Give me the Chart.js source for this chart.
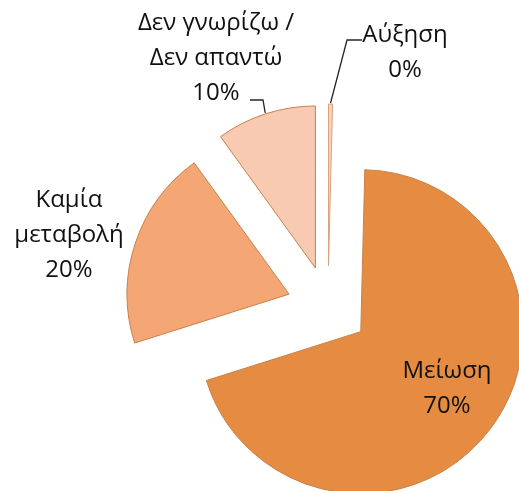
<!DOCTYPE html>
<html>
<head>
<meta charset="utf-8">
<script src="https://cdn.jsdelivr.net/npm/chart.js@4.4.1/dist/chart.umd.min.js"></script>
<style>
  html, body { margin: 0; padding: 0; background: #ffffff; }
  #wrap { width: 519px; height: 491px; position: relative; }
</style>
</head>
<body>
<div id="wrap"><canvas id="c" width="519" height="491"></canvas></div>
<script>
// ---- data ----
const categories = ['Αύξηση', 'Μείωση', 'Καμία μεταβολή', 'Δεν γνωρίζω / Δεν απαντώ'];
const values = [0.4, 70, 20, 10];
const labelLines = [['Αύξηση'], ['Μείωση'], ['Καμία', 'μεταβολή'], ['Δεν γνωρίζω /', 'Δεν απαντώ']];

// ---- style ----
const sliceColors = ['#F3D3BE', '#E68B42', '#F4A774', '#F8CAB2'];
const sliceBorders = ['#DCA27C', '#C98049', '#C98049', '#C98049'];
const EXPLODE = 41;
const FONT = '500 24px "Open Sans", Roboto, sans-serif';
const LINE_H = 35;
// label placement (text centre of first line) and leader elbows
const labelPos = [
  { x: 405, y: 35, leader: [[362, 40], [347, 40]] },
  { x: 447, y: 371 },
  { x: 69, y: 200 },
  { x: 216, y: 23, leader: [[250, 100], [263, 100]] }
];

const total = values.reduce((a, b) => a + b, 0);

const explodePlugin = {
  id: 'explode',
  beforeDatasetDraw(chart, args) {
    const ctx = chart.ctx;
    args.meta.data.forEach((arc) => {
      const mid = (arc.startAngle + arc.endAngle) / 2;
      ctx.save();
      ctx.translate(Math.cos(mid) * EXPLODE, Math.sin(mid) * EXPLODE);
      arc.draw(ctx);
      ctx.restore();
    });
    return false;
  },
  afterDatasetsDraw(chart) {
    const ctx = chart.ctx;
    const meta = chart.getDatasetMeta(0);
    ctx.save();
    ctx.font = FONT;
    ctx.fillStyle = '#111111';
    ctx.textAlign = 'center';
    ctx.textBaseline = 'middle';
    meta.data.forEach((arc, i) => {
      const lp = labelPos[i];
      const pct = Math.round(values[i] / total * 100) + '%';
      const lines = labelLines[i].concat([pct]);
      lines.forEach((t, k) => ctx.fillText(t, lp.x, lp.y + k * LINE_H));
      if (lp.leader) {
        const mid = (arc.startAngle + arc.endAngle) / 2;
        const rr = EXPLODE + arc.outerRadius + 1;
        const ex = arc.x + Math.cos(mid) * rr;
        const ey = arc.y + Math.sin(mid) * rr;
        ctx.beginPath();
        ctx.strokeStyle = '#262626';
        ctx.lineWidth = 1.3;
        ctx.moveTo(lp.leader[0][0], lp.leader[0][1]);
        for (let j = 1; j < lp.leader.length; j++) ctx.lineTo(lp.leader[j][0], lp.leader[j][1]);
        ctx.lineTo(ex, ey);
        ctx.stroke();
      }
    });
    ctx.restore();
  }
};

new Chart(document.getElementById('c'), {
  type: 'pie',
  data: {
    labels: categories,
    datasets: [{
      data: values,
      backgroundColor: sliceColors,
      borderColor: sliceBorders,
      borderWidth: 1,
      borderJoinStyle: 'miter'
    }]
  },
  options: {
    responsive: false,
    animation: false,
    radius: 162,
    rotation: 0,
    layout: { padding: { left: 137, right: 0, top: 123, bottom: 0 } },
    plugins: {
      legend: { display: false },
      tooltip: { enabled: false }
    }
  },
  plugins: [explodePlugin]
});
</script>
</body>
</html>
